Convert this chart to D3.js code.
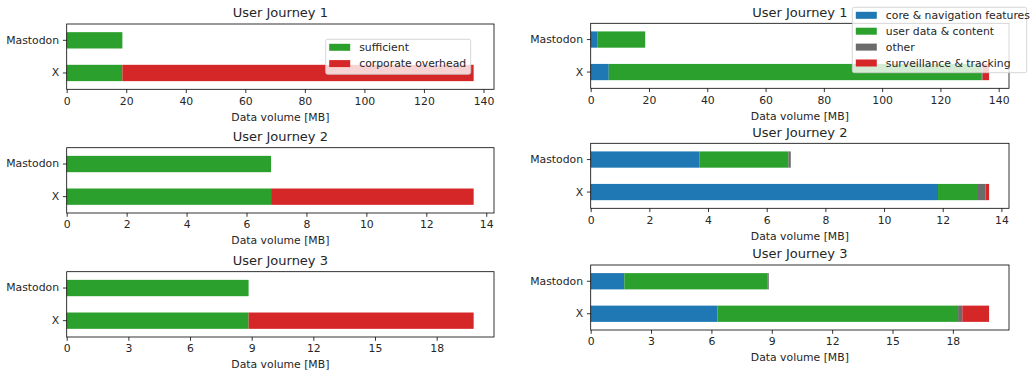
<!DOCTYPE html>
<html>
<head>
<meta charset="utf-8">
<script src="https://cdn.jsdelivr.net/npm/d3@7"></script>
<style>
  html, body { margin: 0; padding: 0; background: #fff; }
  svg { display: block; font-family: "DejaVu Sans", sans-serif; }
</style>
</head>
<body>
<svg id="chart" width="1033" height="377"></svg>
<script>
// ---------------- data ----------------
const journeys = ["User Journey 1", "User Journey 2", "User Journey 3"];
const platforms = ["Mastodon", "X"];            // values below are [Mastodon, X]

// left figure: sufficient vs corporate overhead
const sufficient = [[18.7, 18.7], [6.82, 6.82], [8.85, 8.85]];
const overhead   = [[0, 118.0],   [0, 6.76],    [0, 10.95]];
const leftSeries = ["sufficient", "corporate overhead"];

// right figure: breakdown by category
const coreNav   = [[2.4, 6.2],    [3.70, 11.84], [1.67, 6.30]];
const userData  = [[16.25, 128.0],[3.04, 1.33],  [7.13, 11.96]];
const other     = [[0.05, 0.3],   [0.08, 0.29],  [0.05, 0.21]];
const tracking  = [[0, 2.2],      [0, 0.12],     [0, 1.33]];
const rightSeries = ["core & navigation features", "user data & content", "other", "surveillance & tracking"];

// x tick labels per journey
const ticksJ1 = [0, 20, 40, 60, 80, 100, 120, 140];
const ticksJ2 = [0, 2, 4, 6, 8, 10, 12, 14];
const ticksJ3 = [0, 3, 6, 9, 12, 15, 18];
const tickSets = [ticksJ1, ticksJ2, ticksJ3];

const xLabel = "Data volume [MB]";

// ---------------- styles ----------------
const leftColors  = ["#2ca02c", "#d62728"];
const rightColors = ["#1f77b4", "#2ca02c", "#6b6b6b", "#d62728"];
const textColor = "#262626";
const fs = 10.83, titleFs = 13;

const svg = d3.select("#chart");

const layouts = {
  left:  { x0: 66.7, x1: 494,  tops: [24, 147.7, 271.7], h: 65.3 },
  right: { x0: 590.7, x1: 1009, tops: [23.3, 143.3, 265], h: 65 }
};

function buildRows(seriesNames, arrays, j) {
  return platforms.map((p, i) => {
    const row = { platform: p };
    seriesNames.forEach((s, k) => { row[s] = arrays[k][j][i]; });
    return row;
  });
}

function drawPanel(lay, j, seriesNames, arrays, colors) {
  const top = lay.tops[j], bottom = top + lay.h;
  const rows = buildRows(seriesNames, arrays, j);
  const stack = d3.stack().keys(seriesNames)(rows);
  const maxTotal = d3.max(rows, r => d3.sum(seriesNames, s => r[s]));

  const x = d3.scaleLinear().domain([0, maxTotal * 1.05]).range([lay.x0, lay.x1]);
  const y = d3.scaleBand().domain(platforms).range([top, bottom])
              .paddingInner(0.5).paddingOuter(0.25);

  const g = svg.append("g");

  // bars
  stack.forEach((layer, k) => {
    g.append("g").attr("fill", colors[k])
      .selectAll("rect").data(layer).join("rect")
      .attr("x", d => x(d[0]))
      .attr("y", d => y(d.data.platform))
      .attr("width", d => Math.max(0, x(d[1]) - x(d[0])))
      .attr("height", y.bandwidth());
  });

  // frame
  g.append("rect")
    .attr("x", lay.x0).attr("y", top)
    .attr("width", lay.x1 - lay.x0).attr("height", lay.h)
    .attr("fill", "none").attr("stroke", "#000").attr("stroke-width", 0.8);

  // x axis
  const xAxis = d3.axisBottom(x).tickValues(tickSets[j]).tickSize(3.8).tickPadding(3.8)
                  .tickFormat(d3.format("d"));
  const xg = g.append("g").attr("transform", `translate(0,${bottom})`).call(xAxis);
  xg.select(".domain").remove();
  xg.selectAll(".tick line").attr("stroke", "#000").attr("stroke-width", 0.8);
  xg.selectAll(".tick text").attr("font-size", fs).attr("fill", textColor)
    .attr("font-family", "DejaVu Sans");

  // y axis
  const yAxis = d3.axisLeft(y).tickSize(3.8).tickPadding(3.8);
  const yg = g.append("g").attr("transform", `translate(${lay.x0},0)`).call(yAxis);
  yg.select(".domain").remove();
  yg.selectAll(".tick line").attr("stroke", "#000").attr("stroke-width", 0.8);
  yg.selectAll(".tick text").attr("font-size", fs).attr("fill", textColor)
    .attr("font-family", "DejaVu Sans");

  // x label
  g.append("text")
    .attr("x", (lay.x0 + lay.x1) / 2).attr("y", bottom + 31.3)
    .attr("text-anchor", "middle").attr("font-size", fs).attr("fill", textColor)
    .text(xLabel);

  // title
  g.append("text")
    .attr("x", (lay.x0 + lay.x1) / 2).attr("y", top - 6.7)
    .attr("text-anchor", "middle").attr("font-size", titleFs).attr("fill", textColor)
    .text(journeys[j]);
}

function drawLegend(names, colors, box) {
  const g = svg.append("g");
  g.append("rect")
    .attr("x", box.x).attr("y", box.y).attr("width", box.w).attr("height", box.h)
    .attr("rx", 2).attr("ry", 2)
    .attr("fill", "#fff").attr("fill-opacity", 0.8)
    .attr("stroke", "#cccccc").attr("stroke-width", 0.8);
  names.forEach((n, i) => {
    const cy = box.y + 8 + i * box.step;
    g.append("rect").attr("x", box.x + 3.5).attr("y", cy - 3.5)
      .attr("width", 21).attr("height", 7).attr("fill", colors[i]);
    g.append("text").attr("x", box.x + 33.5).attr("y", cy)
      .attr("dy", "0.35em").attr("font-size", fs).attr("fill", textColor).text(n);
  });
}

const leftArrays = [sufficient, overhead];
const rightArrays = [coreNav, userData, other, tracking];

journeys.forEach((_, j) => {
  drawPanel(layouts.left, j, leftSeries, leftArrays, leftColors);
  drawPanel(layouts.right, j, rightSeries, rightArrays, rightColors);
});

drawLegend(leftSeries, leftColors, { x: 325.7, y: 39.3, w: 145, h: 35, step: 16.3 });
drawLegend(rightSeries, rightColors, { x: 852.3, y: 7.3, w: 174.4, h: 65.4, step: 15.9 });
</script>
</body>
</html>
